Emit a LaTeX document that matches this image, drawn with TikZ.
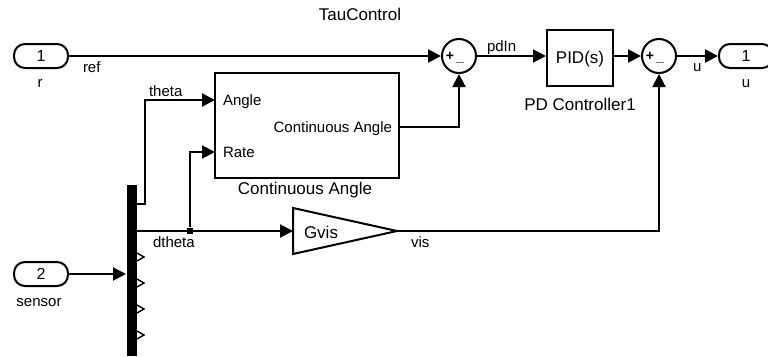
\documentclass[tikz,border=0pt]{standalone}
\usepackage{fontspec}
\setmainfont{Liberation Sans}
\usetikzlibrary{arrows.meta,positioning}

\begin{document}
\begin{tikzpicture}[x=1pt, y=-1pt,
    line width=2pt,
    sig/.style={-{Triangle[length=13pt, width=13pt]}},
    portbox/.style={draw, rounded corners=11pt, minimum width=54pt, minimum height=24pt, inner sep=0pt, font=\fontsize{16}{18}\selectfont},
    blockbox/.style={draw, inner sep=0pt},
    sumnode/.style={draw, circle, minimum size=34pt, inner sep=0pt},
    sgn/.style={inner sep=0pt, font=\fontsize{14}{15}\selectfont\bfseries},
    lbl/.style={inner sep=0pt, font=\fontsize{15}{18}\selectfont},
    captxt/.style={inner sep=0pt, font=\fontsize{17}{20}\selectfont}
]
\useasboundingbox (0,0) rectangle (768,356);

% Title
\node[captxt, anchor=base] (title) at (360,20.5) {TauControl};

% Inports and outport
\node[portbox] (inr) at (41,56) {1};
\node[lbl, anchor=base] (inrlbl) at (40,87) {r};
\node[portbox] (ins) at (41,274) {2};
\node[lbl, anchor=base] (inslbl) at (39,306.5) {sensor};
\node[portbox] (outu) at (746,56) {1};
\node[lbl, anchor=base] (outulbl) at (746,87) {u};

% Sum blocks
\node[sumnode] (sum1) at (459,56) {};
\node[sgn] (sum1p) at (450,56) {+};
\node[sgn] (sum1m) at (460,62) {\_};
\node[sumnode] (sum2) at (659,56) {};
\node[sgn] (sum2p) at (650,56) {+};
\node[sgn] (sum2m) at (660,62) {\_};

% PD controller
\node[blockbox, minimum width=66pt, minimum height=56pt] (pid) at (580,58) {};
\node[captxt, anchor=base] (pidtxt) at (580,63) {PID(s)};
\node[captxt, anchor=base] (pidcap) at (580,110) {PD Controller1};

% Continuous Angle subsystem
\node[blockbox, minimum width=184pt, minimum height=105pt] (ca) at (307,125.5) {};
\node[lbl, anchor=base west] (caang) at (222,105) {Angle};
\node[lbl, anchor=base west] (carate) at (222,157) {Rate};
\node[lbl, anchor=base east] (caout) at (393,132.5) {Continuous Angle};
\node[captxt, anchor=base] (cacap) at (305,194) {Continuous Angle};
\coordinate (caA) at (215,100);
\coordinate (caR) at (215,152);
\coordinate (caO) at (399,127);

% Gain Gvis
\coordinate (gvin) at (293,231);
\coordinate (gvout) at (397,231);
\draw (293,208) -- (gvout) -- (293,254) -- cycle;
\node[captxt, anchor=base west] (gvtxt) at (303,238) {Gvis};

% Demux
\node[fill=black, minimum width=10pt, minimum height=171pt, inner sep=0pt] (demux) at (132,270.5) {};
\coordinate (dm1) at (137,204);
\coordinate (dm2) at (137,231);
\foreach \y in {257,283,309,335}
    \draw[line width=1.4pt] (137,\y-4) -- (144,\y) -- (137,\y+4);
\node[fill=black, minimum size=6pt, inner sep=0pt] (jct) at (190,231) {};

% Signals
\draw[sig] (inr.east) -- (sum1.west);
\draw[sig] (sum1.east) -- (sum1.east -| pid.west);
\draw[sig] (sum2.west -| pid.east) -- (sum2.west);
\draw[sig] (sum2.east) -- (outu.west);
\draw[sig] (caO) -| (sum1.south);
\draw[sig] (dm1) -- ++(8,0) |- (caA);
\draw[sig] (dm2) -- (gvin);
\draw[sig] (jct) |- (caR);
\draw[sig] (gvout) -| (sum2.south);
\draw[sig] (ins.east) -- (ins.east -| demux.west);

% Signal labels
\node[lbl, anchor=base west] (lref) at (82,72.5) {ref};
\node[lbl, anchor=base west] (ltheta) at (148,96.5) {theta};
\node[lbl, anchor=base west] (lpdin) at (486,51.5) {pdIn};
\node[lbl, anchor=base west] (lu) at (692,71) {u};
\node[lbl, anchor=base west] (ldtheta) at (152,247) {dtheta};
\node[lbl, anchor=base west] (lvis) at (410,247) {vis};

\end{tikzpicture}
\end{document}
